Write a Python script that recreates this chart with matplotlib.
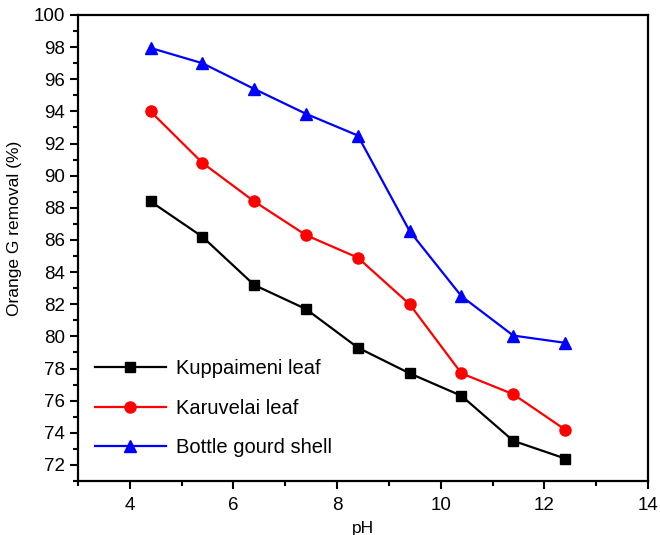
import numpy as np
import matplotlib.pyplot as plt
from matplotlib.ticker import MultipleLocator

plt.rcParams['font.family'] = ['Liberation Sans', 'DejaVu Sans']

ph = [4.4, 5.4, 6.4, 7.4, 8.4, 9.4, 10.4, 11.4, 12.4]
kuppaimeni = [88.4, 86.2, 83.2, 81.7, 79.3, 77.7, 76.3, 73.5, 72.4]
karuvelai = [94.0, 90.8, 88.4, 86.3, 84.9, 82.0, 77.7, 76.4, 74.2]
bottle_gourd = [97.95, 97.0, 95.4, 93.85, 92.5, 86.55, 82.5, 80.05, 79.6]

fig = plt.figure(figsize=(6.6, 5.35), dpi=100)
ax = fig.add_axes([78 / 660, 1 - 481 / 535, 570 / 660, 466 / 535])

ax.plot(ph, kuppaimeni, color='black', marker='s', markersize=7, lw=1.6, label='Kuppaimeni leaf')
ax.plot(ph, karuvelai, color='red', marker='o', markersize=8, lw=1.6, label='Karuvelai leaf')
ax.plot(ph, bottle_gourd, color='blue', marker='^', markersize=8.5, lw=1.6, label='Bottle gourd shell')

ax.set_xlim(3, 14)
ax.set_ylim(71, 100)
ax.xaxis.set_major_locator(MultipleLocator(2))
ax.xaxis.set_minor_locator(MultipleLocator(1))
ax.yaxis.set_major_locator(MultipleLocator(2))
ax.yaxis.set_minor_locator(MultipleLocator(1))
ax.tick_params(which='both', direction='out', width=1.5, labelsize=13.5, top=False, right=False)
ax.tick_params(which='major', length=6)
ax.tick_params(which='minor', length=3.5)
ax.tick_params(axis='x', which='major', pad=5.5)
for s in ax.spines.values():
    s.set_linewidth(1.6)

ax.set_xlabel('pH', fontsize=12.5)
ax.xaxis.set_label_coords(0.5, -0.085)
ax.set_ylabel('Orange G removal (%)', fontsize=12.5)
ax.yaxis.set_label_coords(-0.098, 0.543)

ax.legend(loc='lower left', bbox_to_anchor=(0.03, 0.052), frameon=False, fontsize=14.5,
          handlelength=3.5, handletextpad=0.5, labelspacing=1.0,
          borderpad=0, borderaxespad=0)

fig.savefig('out.png', dpi=100)
